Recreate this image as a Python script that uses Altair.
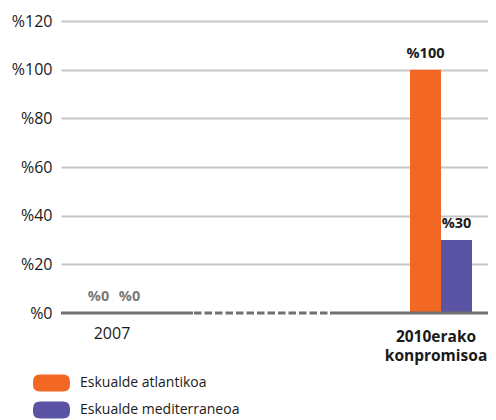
import altair as alt
import pandas as pd

categories = ["2007", "2010erako konpromisoa"]
series = ["Eskualde atlantikoa", "Eskualde mediterraneoa"]
atlantic_values = [0, 100]
mediterranean_values = [0, 30]
y_ticks = [0, 20, 40, 60, 80, 100, 120]
colors = ["#F26724", "#5B54A4"]

rows = []
for i, cat in enumerate(categories):
    rows.append({"category": cat, "series": series[0], "value": atlantic_values[i]})
    rows.append({"category": cat, "series": series[1], "value": mediterranean_values[i]})
df = pd.DataFrame(rows)
cat_df = pd.DataFrame({"category": categories})

FONT = "Open Sans"

x_scale = alt.Scale(paddingInner=0.8104, paddingOuter=0.0581, align=0.579)
x_enc = alt.X("category:N", sort=categories, scale=x_scale, axis=None)
xo_enc = alt.XOffset("series:N", sort=series, scale=alt.Scale(paddingInner=0, paddingOuter=0))
y_enc = alt.Y(
    "value:Q",
    scale=alt.Scale(domain=[0, 120], nice=False),
    axis=alt.Axis(
        title=None,
        values=y_ticks,
        domain=False,
        ticks=False,
        grid=True,
        gridColor="#c6c6c6",
        gridWidth=2,
        gridOpacity={"condition": {"test": "datum.value == 0", "value": 0}, "value": 1},
        labelFont=FONT,
        labelFontSize=16,
        labelColor="#1a1a1a",
        labelPadding=9,
        labelExpr="'%' + datum.value",
    ),
)

legend_path = ("M -0.62,-0.46 L 0.62,-0.46 Q 1,-0.46 1,-0.08 L 1,0.08 Q 1,0.46 0.62,0.46 "
               "L -0.62,0.46 Q -1,0.46 -1,0.08 L -1,-0.08 Q -1,-0.46 -0.62,-0.46 Z")

base = alt.Chart(df)

bars = base.mark_bar(size=31).encode(
    x=x_enc,
    xOffset=xo_enc,
    y=y_enc,
    color=alt.Color(
        "series:N",
        sort=series,
        scale=alt.Scale(domain=series, range=colors),
        legend=alt.Legend(
            title=None,
            orient="none",
            legendX=-28,
            legendY=352,
            direction="vertical",
            symbolType=legend_path,
            symbolSize=1369,
            symbolStrokeWidth=0,
            symbolOpacity=1,
            labelFont=FONT,
            labelFontSize=14,
            labelColor="#1a1a1a",
            labelOffset=10,
            labelLimit=300,
            clipHeight=20,
            rowPadding=7,
            padding=0,
        ),
    ),
)

labels = base.transform_calculate(
    label="'%' + datum.value"
).mark_text(font=FONT, fontSize=14.5, fontWeight="bold", baseline="alphabetic", dy=-12).encode(
    x=x_enc,
    xOffset=xo_enc,
    y=alt.Y("value:Q"),
    text="label:N",
    color=alt.condition("datum.value == 0", alt.value("#7a7a7a"), alt.value("#1a1a1a")),
)

cat_base = alt.Chart(cat_df)
xlab_2007 = cat_base.transform_filter(alt.datum.category == categories[0]).mark_text(
    font=FONT, fontSize=16, color="#1a1a1a", baseline="alphabetic", dx=-2
).encode(x=x_enc, y=alt.value(318), text="category:N")
xlab_2010 = cat_base.transform_filter(alt.datum.category == categories[1]).mark_text(
    font=FONT, fontSize=15.5, fontWeight="bold", color="#1a1a1a", baseline="alphabetic",
    lineBreak=" ", lineHeight=19.5, dx=-5
).encode(x=x_enc, y=alt.value(320.5), text="category:N")

line_color = "#707070"
seg1 = alt.Chart().mark_rule(color=line_color, strokeWidth=3).encode(
    x=alt.value(0), x2=alt.value(132), y=alt.datum(0))
seg2 = alt.Chart().mark_rule(color=line_color, strokeWidth=3, strokeDash=[7.5, 3]).encode(
    x=alt.value(133), x2=alt.value(269), y=alt.datum(0))
seg3 = alt.Chart().mark_rule(color=line_color, strokeWidth=3).encode(
    x=alt.value(269), x2=alt.value(427), y=alt.datum(0))

chart = alt.layer(bars, seg1, seg2, seg3, labels, xlab_2007, xlab_2010).properties(
    width=427,
    height=292,
    autosize=alt.AutoSizeParams(type="none"),
    padding={"left": 53, "top": 13, "right": 0, "bottom": 107},
).configure_view(stroke=None)

chart.save("out.html", embed_options={"renderer": "svg", "actions": False})
